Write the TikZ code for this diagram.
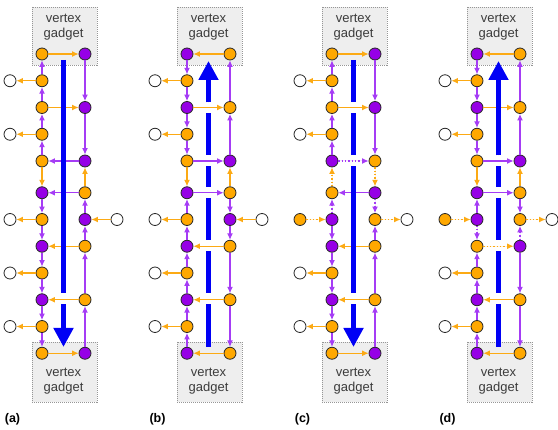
\documentclass[tikz,border=0pt]{standalone}
\usepackage{fontspec}
\setsansfont{Liberation Sans}
\usetikzlibrary{arrows.meta}
\definecolor{orangeFill}{RGB}{255,168,0}
\definecolor{orangeLine}{RGB}{252,170,20}
\definecolor{purpleFill}{RGB}{150,0,230}
\definecolor{purpleLine}{RGB}{165,60,245}
\definecolor{nodeLine}{RGB}{40,40,40}
\definecolor{pathBlue}{RGB}{0,0,245}
\definecolor{gadgetFill}{RGB}{238,238,238}
\definecolor{gadgetLine}{RGB}{150,150,150}
\definecolor{textGray}{RGB}{60,60,60}
\newcommand{\rowAt}[1]{54+26.75*(#1-1)+5*(#1>5)}
\begin{document}
\begin{tikzpicture}[x=1pt,y=-1pt,%%
  orangeNode/.style={circle,draw=nodeLine,fill=orangeFill,line width=0.8pt,minimum size=12pt,inner sep=0pt},%%
  purpleNode/.style={orangeNode,fill=purpleFill},%%
  openNode/.style={orangeNode,fill=white},%%
  orangeEdge/.style={-{Latex[length=6.5pt,width=6pt]},draw=orangeLine,fill=orangeLine,line width=1.3pt},%%
  purpleEdge/.style={-{Latex[length=6.5pt,width=6pt]},draw=purpleLine,fill=purpleLine,line width=1.3pt},%%
  orangeDots/.style={orangeEdge,dotted},%%
  purpleDots/.style={purpleEdge,dotted},%%
  blueLine/.style={draw=pathBlue,line width=5pt},%%
  blueTip/.style={-{Triangle[length=19pt,width=19pt]},fill=pathBlue},%%
  gadgetStyle/.style={fill=gadgetFill,draw=gadgetLine,line width=0.6pt,dash pattern=on 1pt off 1pt},%%
  gadgetText/.style={align=center,text=textGray,font=\sffamily\fontsize{13}{15}\selectfont},%%
  panelLabel/.style={font=\sffamily\bfseries\fontsize{12.5}{14}\selectfont}%%
]
\useasboundingbox (0,0) rectangle (558,430);
%%
\pgfmathsetmacro{\xLa}{42}
\pgfmathsetmacro{\xRa}{\xLa+43}
\pgfmathsetmacro{\xLb}{187}
\pgfmathsetmacro{\xRb}{\xLb+43}
\pgfmathsetmacro{\xLc}{332}
\pgfmathsetmacro{\xRc}{\xLc+43}
\pgfmathsetmacro{\xLd}{477}
\pgfmathsetmacro{\xRd}{\xLd+43}
%%
%% Panel (a).
\draw[gadgetStyle] (\xLa-10,7) rectangle (\xRa+12,65);
\draw[gadgetStyle] (\xLa-10,342) rectangle (\xRa+12,402);
\node[gadgetText] (aTopText) at (\xLa+21.5,27) {vertex\\gadget};
\node[gadgetText] (aBotText) at (\xLa+21.5,381) {vertex\\gadget};
\foreach \i/\s in {1/orangeNode,2/orangeNode,3/orangeNode,4/orangeNode,5/orangeNode,6/purpleNode,
  7/orangeNode,8/purpleNode,9/orangeNode,10/purpleNode,11/orangeNode,12/orangeNode}
  \node[\s] (aL\i) at (\xLa,{\rowAt{\i}}) {};
\foreach \i/\s in {1/purpleNode,3/purpleNode,5/purpleNode,6/orangeNode,7/purpleNode,8/orangeNode,
  10/orangeNode,12/purpleNode}
  \node[\s] (aR\i) at (\xRa,{\rowAt{\i}}) {};
\foreach \i/\s in {2/openNode,4/openNode,7/openNode,9/openNode,11/openNode}
  \node[\s] (aLo\i) at (\xLa-32,{\rowAt{\i}}) {};
\node[openNode] (aRo7) at (\xRa+32,{\rowAt{7}}) {};
\foreach \a/\b/\s in {aL1/aR1/orangeEdge,aL3/aR3/orangeEdge,aR5/aL5/purpleEdge,aR6/aL6/purpleEdge,
  aR8/aL8/orangeEdge,aR10/aL10/orangeEdge,aL12/aR12/orangeEdge,
  aL2/aLo2/orangeEdge,aL4/aLo4/orangeEdge,aL7/aLo7/orangeEdge,aL9/aLo9/orangeEdge,aL11/aLo11/orangeEdge,
  aRo7/aR7/orangeEdge,
  aL2/aL1/purpleEdge,aL3/aL2/purpleEdge,aL4/aL3/purpleEdge,aL5/aL4/purpleEdge,aL5/aL6/orangeEdge,
  aL6/aL7/purpleEdge,aL7/aL8/purpleEdge,aL8/aL9/purpleEdge,aL9/aL10/purpleEdge,aL10/aL11/purpleEdge,
  aL11/aL12/purpleEdge,
  aR1/aR3/purpleEdge,aR3/aR5/purpleEdge,aR6/aR5/orangeEdge,aR7/aR6/purpleEdge,aR8/aR7/purpleEdge,
  aR10/aR8/purpleEdge,aR12/aR10/purpleEdge}
  \draw[\s] (\a) -- (\b);
\draw[blueLine] (\xLa+21.5,60) -- (\xLa+21.5,293.5);
\draw[blueLine,blueTip] (\xLa+21.5,304.5) -- (\xLa+21.5,347);
\node[panelLabel] (aLabel) at (\xLa-29.5,419) {(a)};
%%
%% Panel (b).
\draw[gadgetStyle] (\xLb-10,7) rectangle (\xRb+12,65);
\draw[gadgetStyle] (\xLb-10,342) rectangle (\xRb+12,402);
\node[gadgetText] (bTopText) at (\xLb+21.5,27) {vertex\\gadget};
\node[gadgetText] (bBotText) at (\xLb+21.5,381) {vertex\\gadget};
\foreach \i/\s in {1/purpleNode,2/orangeNode,3/purpleNode,4/orangeNode,5/orangeNode,6/purpleNode,
  7/orangeNode,8/purpleNode,9/orangeNode,10/purpleNode,11/orangeNode,12/purpleNode}
  \node[\s] (bL\i) at (\xLb,{\rowAt{\i}}) {};
\foreach \i/\s in {1/orangeNode,3/orangeNode,5/purpleNode,6/orangeNode,7/purpleNode,8/orangeNode,
  10/orangeNode,12/orangeNode}
  \node[\s] (bR\i) at (\xRb,{\rowAt{\i}}) {};
\foreach \i/\s in {2/openNode,4/openNode,7/openNode,9/openNode,11/openNode}
  \node[\s] (bLo\i) at (\xLb-32,{\rowAt{\i}}) {};
\node[openNode] (bRo7) at (\xRb+32,{\rowAt{7}}) {};
\foreach \a/\b/\s in {bR1/bL1/orangeEdge,bL3/bR3/orangeEdge,bL5/bR5/purpleEdge,bL6/bR6/purpleEdge,
  bR8/bL8/orangeEdge,bR10/bL10/orangeEdge,bR12/bL12/orangeEdge,
  bL2/bLo2/orangeEdge,bL4/bLo4/orangeEdge,bL7/bLo7/orangeEdge,bL9/bLo9/orangeEdge,bL11/bLo11/orangeEdge,
  bRo7/bR7/orangeEdge,
  bL1/bL2/purpleEdge,bL2/bL3/purpleEdge,bL3/bL4/purpleEdge,bL4/bL5/purpleEdge,bL5/bL6/orangeEdge,
  bL7/bL6/purpleEdge,bL8/bL7/purpleEdge,bL9/bL8/purpleEdge,bL10/bL9/purpleEdge,bL11/bL10/purpleEdge,
  bL12/bL11/purpleEdge,
  bR3/bR1/purpleEdge,bR5/bR3/purpleEdge,bR6/bR5/orangeEdge,bR6/bR7/purpleEdge,bR7/bR8/purpleEdge,
  bR8/bR10/purpleEdge,bR10/bR12/purpleEdge}
  \draw[\s] (\a) -- (\b);
\foreach \ya/\yb in {113.5/155.5,166.5/187.5,198.5/240.5,251.5/293.5,304.5/347}
  \draw[blueLine] (\xLb+21.5,\ya) -- (\xLb+21.5,\yb);
\draw[blueLine,blueTip] (\xLb+21.5,102.5) -- (\xLb+21.5,61);
\node[panelLabel] (bLabel) at (\xLb-29.5,419) {(b)};
%%
%% Panel (c).
\draw[gadgetStyle] (\xLc-10,7) rectangle (\xRc+12,65);
\draw[gadgetStyle] (\xLc-10,342) rectangle (\xRc+12,402);
\node[gadgetText] (cTopText) at (\xLc+21.5,27) {vertex\\gadget};
\node[gadgetText] (cBotText) at (\xLc+21.5,381) {vertex\\gadget};
\foreach \i/\s in {1/orangeNode,2/orangeNode,3/orangeNode,4/orangeNode,5/purpleNode,6/orangeNode,
  7/purpleNode,8/purpleNode,9/orangeNode,10/purpleNode,11/orangeNode,12/orangeNode}
  \node[\s] (cL\i) at (\xLc,{\rowAt{\i}}) {};
\foreach \i/\s in {1/purpleNode,3/purpleNode,5/orangeNode,6/purpleNode,7/orangeNode,8/orangeNode,
  10/orangeNode,12/purpleNode}
  \node[\s] (cR\i) at (\xRc,{\rowAt{\i}}) {};
\foreach \i/\s in {2/openNode,4/openNode,7/orangeNode,9/openNode,11/openNode}
  \node[\s] (cLo\i) at (\xLc-32,{\rowAt{\i}}) {};
\node[openNode] (cRo7) at (\xRc+32,{\rowAt{7}}) {};
\foreach \a/\b/\s in {cL1/cR1/orangeEdge,cL3/cR3/orangeEdge,cL5/cR5/purpleDots,cR6/cL6/purpleEdge,
  cR8/cL8/orangeEdge,cR10/cL10/orangeEdge,cL12/cR12/orangeEdge,
  cL2/cLo2/orangeEdge,cL4/cLo4/orangeEdge,cL9/cLo9/orangeEdge,cL11/cLo11/orangeEdge,
  cLo7/cL7/orangeDots,cR7/cRo7/orangeDots,
  cL2/cL1/purpleEdge,cL3/cL2/purpleEdge,cL4/cL3/purpleEdge,cL5/cL4/purpleEdge,cL6/cL5/orangeDots,
  cL7/cL6/purpleDots,cL7/cL8/purpleEdge,cL8/cL9/purpleEdge,cL9/cL10/purpleEdge,cL10/cL11/purpleEdge,
  cL11/cL12/purpleEdge,
  cR1/cR3/purpleEdge,cR3/cR5/purpleEdge,cR5/cR6/orangeDots,cR6/cR7/purpleDots,cR8/cR7/purpleEdge,
  cR10/cR8/purpleEdge,cR12/cR10/purpleEdge}
  \draw[\s] (\a) -- (\b);
\foreach \ya/\yb in {60/102.5,113.5/155.5,166.5/293.5}
  \draw[blueLine] (\xLc+21.5,\ya) -- (\xLc+21.5,\yb);
\draw[blueLine,blueTip] (\xLc+21.5,304.5) -- (\xLc+21.5,347);
\node[panelLabel] (cLabel) at (\xLc-29.5,419) {(c)};
%%
%% Panel (d).
\draw[gadgetStyle] (\xLd-10,7) rectangle (\xRd+12,65);
\draw[gadgetStyle] (\xLd-10,342) rectangle (\xRd+12,402);
\node[gadgetText] (dTopText) at (\xLd+21.5,27) {vertex\\gadget};
\node[gadgetText] (dBotText) at (\xLd+21.5,381) {vertex\\gadget};
\foreach \i/\s in {1/purpleNode,2/orangeNode,3/purpleNode,4/orangeNode,5/orangeNode,6/purpleNode,
  7/purpleNode,8/orangeNode,9/orangeNode,10/purpleNode,11/orangeNode,12/purpleNode}
  \node[\s] (dL\i) at (\xLd,{\rowAt{\i}}) {};
\foreach \i/\s in {1/orangeNode,3/orangeNode,5/purpleNode,6/orangeNode,7/orangeNode,8/purpleNode,
  10/orangeNode,12/orangeNode}
  \node[\s] (dR\i) at (\xRd,{\rowAt{\i}}) {};
\foreach \i/\s in {2/openNode,4/openNode,7/orangeNode,9/openNode,11/openNode}
  \node[\s] (dLo\i) at (\xLd-32,{\rowAt{\i}}) {};
\node[openNode] (dRo7) at (\xRd+32,{\rowAt{7}}) {};
\foreach \a/\b/\s in {dR1/dL1/orangeEdge,dL3/dR3/orangeEdge,dL5/dR5/purpleEdge,dL6/dR6/purpleEdge,
  dL8/dR8/orangeDots,dR10/dL10/orangeEdge,dR12/dL12/orangeEdge,
  dL2/dLo2/orangeEdge,dL4/dLo4/orangeEdge,dL9/dLo9/orangeEdge,dL11/dLo11/orangeEdge,
  dLo7/dL7/orangeDots,dR7/dRo7/orangeDots,
  dL1/dL2/purpleEdge,dL2/dL3/purpleEdge,dL3/dL4/purpleEdge,dL4/dL5/purpleEdge,dL5/dL6/orangeEdge,
  dL7/dL6/purpleEdge,dL7/dL8/purpleDots,dL9/dL8/purpleEdge,dL10/dL9/purpleEdge,dL11/dL10/purpleEdge,
  dL12/dL11/purpleEdge,
  dR3/dR1/purpleEdge,dR5/dR3/purpleEdge,dR6/dR5/orangeEdge,dR6/dR7/purpleEdge,dR8/dR7/purpleDots,
  dR8/dR10/purpleEdge,dR10/dR12/purpleEdge}
  \draw[\s] (\a) -- (\b);
\foreach \ya/\yb in {166.5/187.5,198.5/240.5,251.5/293.5,304.5/347}
  \draw[blueLine] (\xLd+21.5,\ya) -- (\xLd+21.5,\yb);
\draw[blueLine,blueTip] (\xLd+21.5,155.5) -- (\xLd+21.5,61);
\node[panelLabel] (dLabel) at (\xLd-29.5,419) {(d)};
\end{tikzpicture}
\end{document}
